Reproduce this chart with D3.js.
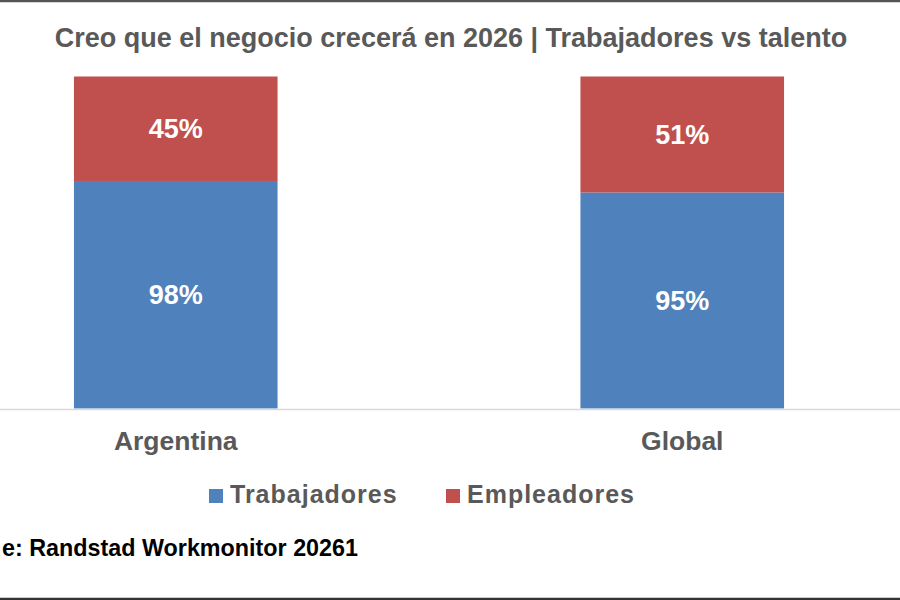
<!DOCTYPE html>
<html><head><meta charset="utf-8">
<script src="https://cdn.jsdelivr.net/npm/d3@7"></script>
<style>body{margin:0;background:#fff;}svg{display:block;font-family:"Liberation Sans",Arial,sans-serif;}</style>
</head><body>
<svg id="c" width="900" height="600"></svg>
<script>
const categories = ["Argentina", "Global"];
const seriesNames = ["Trabajadores", "Empleadores"];
const trabajadores = [98, 95];
const empleadores = [45, 51];
const colors = ["#4F81BD", "#C0504D"];
const title = "Creo que el negocio crecerá en 2026 | Trabajadores vs talento";
const source = "e: Randstad Workmonitor 20261";

const svg = d3.select("#c");
const W = 900, H = 600;
svg.append("rect").attr("width", W).attr("height", H).attr("fill", "#fff");

const rows = categories.map((c, i) => {
  const tot = trabajadores[i] + empleadores[i];
  return {cat: c, Trabajadores: trabajadores[i] / tot, Empleadores: empleadores[i] / tot,
          raw: {Trabajadores: trabajadores[i], Empleadores: empleadores[i]}};
});
const stack = d3.stack().keys(seriesNames)(rows);

const x = d3.scaleBand().domain(categories).range([0, 858]).paddingInner(0.598).paddingOuter(0.146);
const y = d3.scaleLinear().domain([0, 1]).range([408.5, 76.5]);

// chart frame lines
svg.append("line").attr("x1", 0).attr("x2", W).attr("y1", 1).attr("y2", 1).attr("stroke", "#555").attr("stroke-width", 2.5);
svg.append("line").attr("x1", 0).attr("x2", W).attr("y1", 599).attr("y2", 599).attr("stroke", "#333").attr("stroke-width", 2.5);

const g = svg.append("g");
stack.forEach((s, si) => {
  g.selectAll(null).data(s).enter().append("rect")
    .attr("x", d => x(d.data.cat))
    .attr("width", x.bandwidth())
    .attr("y", d => y(d[1]))
    .attr("height", d => y(d[0]) - y(d[1]))
    .attr("fill", colors[si]);
  g.selectAll(null).data(s).enter().append("text")
    .attr("x", d => x(d.data.cat) + x.bandwidth() / 2)
    .attr("y", d => (y(d[0]) + y(d[1])) / 2)
    .attr("dy", "0.36em")
    .attr("text-anchor", "middle")
    .attr("fill", "#fff").attr("font-weight", "bold").attr("font-size", 27)
    .text(d => d.data.raw[seriesNames[si]] + "%");
});

// x axis
const xAxis = svg.append("g").attr("transform", `translate(0,${y(0) + 1})`)
  .call(d3.axisBottom(x).tickSize(0).tickPadding(22));
xAxis.select(".domain").attr("stroke", "#d9d9d9").attr("stroke-width", 1.5).attr("d", `M0,0H${W}`);
xAxis.selectAll("text").attr("font-size", 26.5).attr("font-weight", "bold").attr("fill", "#595959")
  .attr("font-family", '"Liberation Sans",Arial,sans-serif');

// title
svg.append("text").attr("x", 451).attr("y", 47).attr("text-anchor", "middle")
  .attr("font-size", 27).attr("font-weight", "bold").attr("fill", "#595959").text(title);

// legend
const legX = [209, 446];
const leg = svg.append("g");
seriesNames.forEach((n, i) => {
  leg.append("rect").attr("x", legX[i]).attr("y", 489).attr("width", 14).attr("height", 14).attr("fill", colors[i]);
  leg.append("text").attr("x", legX[i] + 21).attr("y", 503).attr("font-size", 25).attr("font-weight", "bold")
    .attr("fill", "#595959").attr("letter-spacing", 1).text(n);
});

// source
svg.append("text").attr("x", 2).attr("y", 556).attr("text-anchor", "start")
  .attr("font-size", 24).attr("font-weight", "bold").attr("fill", "#000")
  .attr("textLength", 356).attr("lengthAdjust", "spacingAndGlyphs").text(source);
</script>
</body></html>
